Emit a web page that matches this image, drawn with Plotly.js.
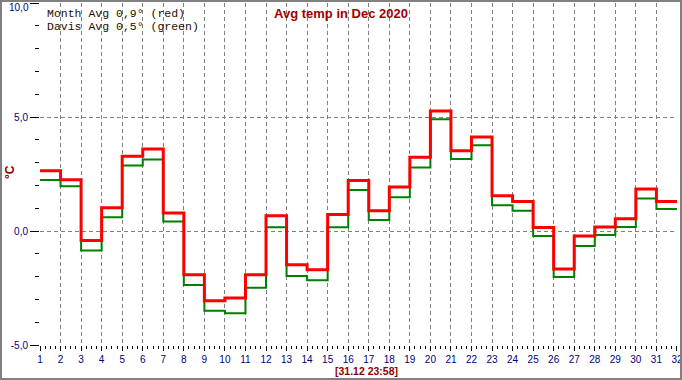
<!DOCTYPE html>
<html>
<head>
<meta charset="utf-8">
<script src="https://cdn.plot.ly/plotly-3.0.1.min.js"></script>
<style>
  html, body { margin:0; padding:0; background:#fff; }
  #wrap { position:relative; width:682px; height:380px; }
  #chart { position:absolute; left:0; top:0; width:682px; height:380px; }
  #frame { position:absolute; left:0; top:0; width:682px; height:380px; box-sizing:border-box;
           border:2px solid #808080; pointer-events:none; }
</style>
</head>
<body>
<div id="wrap"><div id="chart"></div><div id="frame"></div></div>
<script>
// Days of December 2020
const days = [1,2,3,4,5,6,7,8,9,10,11,12,13,14,15,16,17,18,19,20,21,22,23,24,25,26,27,28,29,30,31];
// Month average temperature per day (red)
const monthAvg = [2.64,2.25,-0.42,1.02,3.28,3.60,0.79,-1.92,-3.06,-2.94,-1.92,0.67,-1.48,-1.70,0.72,2.21,0.89,1.93,3.23,5.26,3.52,4.12,1.55,1.29,0.15,-1.67,-0.22,0.18,0.54,1.84,1.29];
// Davis average temperature per day (green)
const davisAvg = [2.24,1.96,-0.85,0.60,2.87,3.14,0.42,-2.37,-3.50,-3.61,-2.49,0.16,-1.97,-2.16,0.16,1.80,0.48,1.48,2.79,4.90,3.16,3.76,1.13,0.89,-0.22,-2.02,-0.66,-0.18,0.18,1.43,0.96];
// Axis ticks
const xTickVals = [1,2,3,4,5,6,7,8,9,10,11,12,13,14,15,16,17,18,19,20,21,22,23,24,25,26,27,28,29,30,31,32];
const yTickVals = [-5,0,5,10];
const yTickText = ['-5,0','0,0','5,0','10,0'];
const yGridVals = [0,5];
const xGridVals = [2,3,4,5,6,7,8,9,10,11,12,13,14,15,16,17,18,19,20,21,22,23,24,25,26,27,28,29,30,31];
const nowMarker = [32];
const chartTitle = 'Avg temp in Dec 2020';
const yLabel = '°C';
const timeLabel = '[31.12 23:58]';

// step edges: each day spans [d, d+1]
const stepX = days.concat([days[days.length-1] + 1]);
const stepRed = monthAvg.concat([monthAvg[monthAvg.length-1]]);
const stepGreen = davisAvg.concat([davisAvg[davisAvg.length-1]]);
const mean = a => a.reduce((s,v)=>s+v,0)/a.length;
const fmt = v => v.toFixed(1).replace('.', ',');

const xRange = [1, 32.002];
const yRange = [-5, 10];
const tickFont = {family:'Liberation Sans, Arial, sans-serif', size:10, color:'#000080'};
const monoFont = {family:'Liberation Mono, Courier New, monospace', size:11.5, color:'#1a1000'};

// the top tick label sits at the very edge: draw it as an annotation nudged inside the frame
const lastIdx = yTickVals.length - 1;
const yAxisText = yTickText.map((t, i) => i === lastIdx ? '' : t);

const traces = [
  {x:[], y:[], xaxis:'x2', yaxis:'y', type:'scatter', mode:'lines', hoverinfo:'skip', showlegend:false},
  {x:[], y:[], xaxis:'x3', yaxis:'y', type:'scatter', mode:'lines', hoverinfo:'skip', showlegend:false},
  {x:[], y:[], xaxis:'x', yaxis:'y2', type:'scatter', mode:'lines', hoverinfo:'skip', showlegend:false},
  {x:stepX, y:stepGreen, type:'scatter', mode:'lines', line:{shape:'hv', color:'#008000', width:2}, showlegend:false, hoverinfo:'skip'},
  {x:stepX, y:stepRed, type:'scatter', mode:'lines', line:{shape:'hv', color:'#ff0000', width:3}, showlegend:false, hoverinfo:'skip'}
];

const layout = {
  width:682, height:380,
  margin:{l:40, r:5, t:3, b:35, pad:0},
  paper_bgcolor:'#ffffff', plot_bgcolor:'#ffffff',
  showlegend:false,
  title:{text:chartTitle, font:{family:'Liberation Sans, Arial, sans-serif', size:13, color:'#a00000', weight:'bold'},
         xref:'container', x:0.5, xanchor:'center', yref:'container', y:1-13/380, yanchor:'middle'},
  xaxis:{range:xRange, tickmode:'array', tickvals:xTickVals, ticks:'outside', ticklen:5, tickwidth:1, tickcolor:'#000',
         showgrid:false, zeroline:false, showline:false, tickfont:tickFont, fixedrange:true, automargin:false,
         ticklabeloverflow:'allow',
         minor:{tickmode:'linear', tick0:1, dtick:0.25, ticks:'outside', ticklen:3, tickwidth:1, tickcolor:'#000', showgrid:false}},
  xaxis2:{overlaying:'x', range:xRange, tickmode:'array', tickvals:xGridVals, showticklabels:false, ticks:'',
          showgrid:true, gridcolor:'#808080', griddash:'4px,3px', gridwidth:1, zeroline:false, showline:false, fixedrange:true},
  xaxis3:{overlaying:'x', range:xRange, tickmode:'array', tickvals:nowMarker, showticklabels:false, ticks:'',
          showgrid:true, gridcolor:'#008000', griddash:'8px,7px,2px,7px', gridwidth:2, zeroline:false, showline:false, fixedrange:true},
  yaxis:{range:yRange, tickmode:'array', tickvals:yTickVals, ticktext:yAxisText, ticks:'outside', ticklen:9, tickwidth:1, tickcolor:'#000',
         showgrid:false, zeroline:false, showline:false, tickfont:tickFont, fixedrange:true, automargin:false,
         ticklabeloverflow:'allow',
         minor:{tickmode:'linear', tick0:0, dtick:1, ticks:'outside', ticklen:4, tickwidth:1, tickcolor:'#000', showgrid:false}},
  yaxis2:{overlaying:'y', range:yRange, tickmode:'array', tickvals:yGridVals, showticklabels:false, ticks:'',
          showgrid:true, gridcolor:'#808080', griddash:'4px,3px', gridwidth:1, zeroline:false, showline:false, fixedrange:true},
  annotations:[
    {text:yTickText[lastIdx], xref:'paper', yref:'y', x:0, y:yTickVals[lastIdx], xshift:-10, yshift:2,
     xanchor:'right', yanchor:'top', showarrow:false, font:tickFont, borderpad:0},
    {text:'Month Avg ' + fmt(mean(monthAvg)) + '° (red)', xref:'paper', yref:'paper', x:0, y:1, xshift:5, yshift:-10,
     xanchor:'left', yanchor:'middle', showarrow:false, font:monoFont},
    {text:'Davis Avg ' + fmt(mean(davisAvg)) + '° (green)', xref:'paper', yref:'paper', x:0, y:1, xshift:5, yshift:-23,
     xanchor:'left', yanchor:'middle', showarrow:false, font:monoFont},
    {text:yLabel, xref:'paper', yref:'paper', x:0, y:(345-172)/342, xshift:-30, xanchor:'center', yanchor:'middle',
     textangle:-90, showarrow:false, font:{family:'Liberation Sans, Arial, sans-serif', size:12, color:'#900000', weight:'bold'}},
    {text:timeLabel, xref:'paper', yref:'paper', x:(366-40)/637, y:0, yshift:-25.5, xanchor:'center', yanchor:'middle',
     showarrow:false, font:{family:'Liberation Sans, Arial, sans-serif', size:10.5, color:'#900000', weight:'bold'}}
  ]
};

Plotly.newPlot('chart', traces, layout, {staticPlot:true, displayModeBar:false});
</script>
</body>
</html>
